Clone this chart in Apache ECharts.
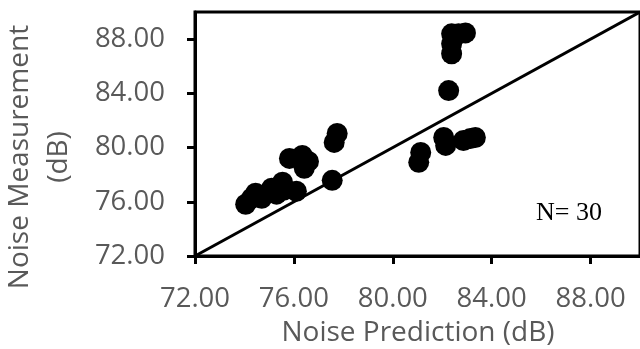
<!DOCTYPE html>
<html>
<head>
<meta charset="utf-8">
<script src="https://cdn.jsdelivr.net/npm/echarts@6/dist/echarts.min.js"></script>
<style>html,body{margin:0;padding:0;background:#fff;}#c{width:640px;height:349px;}</style>
</head>
<body>
<div id="c"></div>
<script>
const xTicks = [72, 76, 80, 84, 88];
const yTicks = [72, 76, 80, 84, 88];
const prediction = [74.05, 74.29, 74.45, 74.70, 74.94, 75.30, 75.54, 75.58, 76.10, 75.82,
  76.34, 76.42, 76.59, 77.55, 77.63, 77.75, 81.05, 81.13, 82.06, 82.14,
  82.86, 83.14, 83.34, 82.26, 82.38, 82.38, 82.38, 82.94, 82.66, 75.10];
const measurement = [75.82, 76.26, 76.63, 76.26, 76.63, 76.56, 77.44, 76.85, 76.78, 79.20,
  79.42, 78.47, 78.98, 77.58, 80.38, 81.04, 78.91, 79.64, 80.74, 80.16,
  80.52, 80.67, 80.74, 84.20, 86.92, 87.65, 88.39, 88.46, 88.39, 77.00];
const identityLine = [[72, 72], [90, 90]];
const axisMin = 72, axisMax = 90;

const chart = echarts.init(document.getElementById('c'), null, {renderer: 'canvas'});
const labelStyle = {color: '#595959', fontFamily: 'Open Sans', fontSize: 27.5};
chart.setOption({
  animation: false,
  grid: {left: 195, top: 12, right: -2, bottom: 93, show: true, borderColor: '#000', borderWidth: 3},
  xAxis: {
    type: 'value', min: axisMin, max: axisMax, interval: 4,
    axisLine: {show: true, onZero: false, lineStyle: {color: '#000', width: 3}},
    axisTick: {show: true, length: 8, lineStyle: {color: '#000', width: 3}},
    splitLine: {show: false},
    axisLabel: Object.assign({margin: 29, showMaxLabel: false, formatter: v => xTicks.includes(v) ? v.toFixed(2) : ''}, labelStyle)
  },
  yAxis: {
    type: 'value', min: axisMin, max: axisMax, interval: 4,
    axisLine: {show: true, onZero: false, lineStyle: {color: '#000', width: 3}},
    axisTick: {show: true, length: 8, lineStyle: {color: '#000', width: 3}},
    splitLine: {show: false},
    axisLabel: Object.assign({margin: 30, showMaxLabel: false, formatter: v => yTicks.includes(v) ? v.toFixed(2) : ''}, labelStyle)
  },
  series: [
    {
      type: 'line', data: identityLine, symbol: 'none', silent: true,
      lineStyle: {color: '#000', width: 3}, z: 3
    },
    {
      type: 'scatter', symbol: 'circle', symbolSize: 21,
      data: prediction.map((p, i) => [p, measurement[i]]),
      itemStyle: {color: '#000', opacity: 1}, z: 4
    }
  ],
  graphic: [
    {type: 'text', x: 418, y: 333, style: {text: 'Noise Prediction (dB)', fill: '#595959', font: '28px "Open Sans"', textAlign: 'center', textVerticalAlign: 'middle'}},
    {type: 'text', x: 39.5, y: 157, rotation: Math.PI / 2, style: {text: 'Noise Measurement\n(dB)', fill: '#595959', font: '28px "Open Sans"', lineHeight: 39, textAlign: 'center', textVerticalAlign: 'middle'}},
    {type: 'text', x: 536, y: 213, style: {text: 'N= 30', fill: '#000', font: '26px "Liberation Serif"', textAlign: 'left', textVerticalAlign: 'middle'}}
  ]
});
</script>
</body>
</html>
